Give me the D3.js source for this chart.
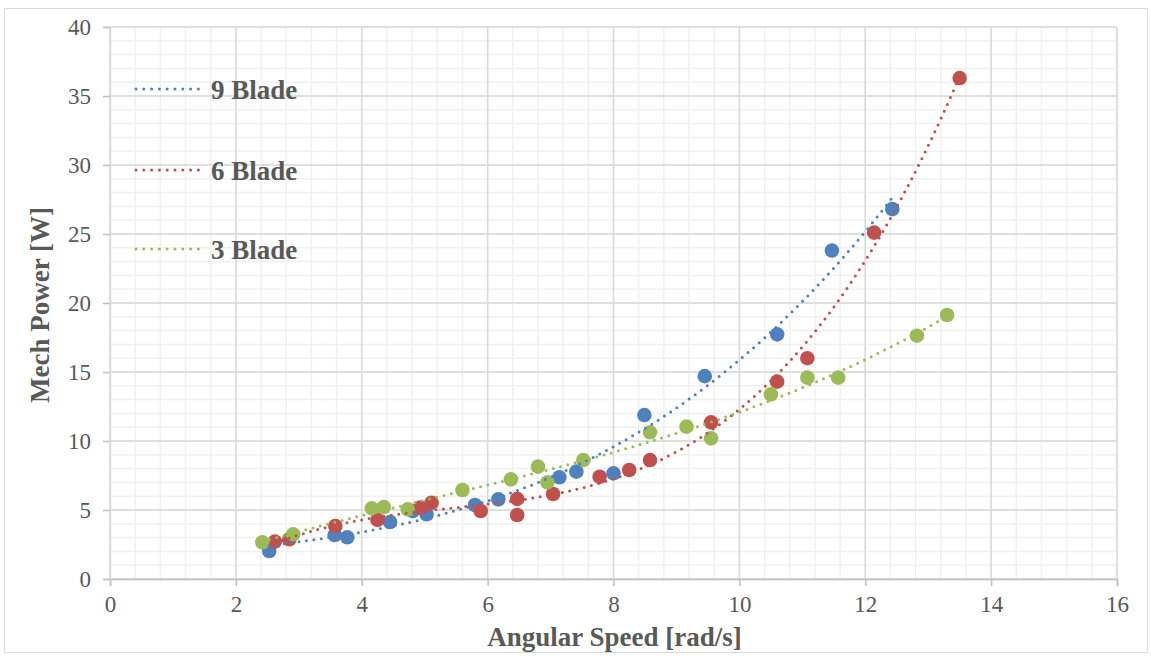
<!DOCTYPE html>
<html>
<head>
<meta charset="utf-8">
<script src="https://cdn.jsdelivr.net/npm/d3@7"></script>
<style>
  html, body { margin: 0; padding: 0; background: #fff; }
  svg { display: block; }
  text { font-family: "Liberation Serif", "Times New Roman", serif; }
</style>
</head>
<body>
<svg id="chart" width="1151" height="656"></svg>
<script>
// Angular speed [rad/s] and mechanical power [W] per rotor configuration
const blade9 = [
  [2.53, 2.03], [3.57, 3.19], [3.77, 3.02], [4.45, 4.13], [4.81, 4.93],
  [5.03, 4.69], [5.80, 5.36], [6.17, 5.77], [7.14, 7.37], [7.41, 7.78],
  [8.00, 7.66], [8.49, 11.88], [9.45, 14.70], [10.60, 17.73], [11.47, 23.80],
  [12.43, 26.80]
];
const blade6 = [
  [2.62, 2.71], [2.85, 2.88], [3.58, 3.84], [4.25, 4.28], [4.93, 5.17],
  [5.11, 5.53], [5.89, 4.93], [6.47, 5.80], [6.47, 4.64], [7.04, 6.16],
  [7.78, 7.41], [8.25, 7.90], [8.58, 8.62], [9.55, 11.35], [10.60, 14.30],
  [11.08, 16.00], [12.14, 25.10], [13.50, 36.30]
];
const blade3 = [
  [2.42, 2.66], [2.91, 3.24], [4.16, 5.12], [4.35, 5.22], [4.73, 5.05],
  [5.60, 6.45], [6.37, 7.22], [6.80, 8.14], [6.95, 7.00], [7.52, 8.62],
  [8.58, 10.63], [9.16, 11.04], [9.55, 10.19], [10.50, 13.38], [11.08, 14.59],
  [11.57, 14.59], [12.82, 17.63], [13.30, 19.13]
];
const seriesNames = ["9 Blade", "6 Blade", "3 Blade"];
const seriesColors = ["#4F81BD", "#C0504D", "#9BBB59"];
const xTicks = [0, 2, 4, 6, 8, 10, 12, 14, 16];
const yTicks = [0, 5, 10, 15, 20, 25, 30, 35, 40];
const xTitle = "Angular Speed [rad/s]";
const yTitle = "Mech Power [W]";

const series = [blade9, blade6, blade3].map((pts, i) => ({
  name: seriesNames[i], color: seriesColors[i], points: pts
}));

const svg = d3.select("#chart");
const W = 1151, H = 656;
const plot = { left: 110, right: 1117, top: 27, bottom: 579 };

// chart frame
svg.append("rect")
  .attr("x", 4.5).attr("y", 8.5).attr("width", W - 8).attr("height", H - 12)
  .attr("fill", "#fff").attr("stroke", "#d9d9d9").attr("stroke-width", 1);

const x = d3.scaleLinear().domain([0, 16]).range([plot.left, plot.right]);
const y = d3.scaleLinear().domain([0, 40]).range([plot.bottom, plot.top]);

// minor gridlines
const g = svg.append("g");
g.selectAll(".vminor").data(d3.range(0, 16.001, 0.4)).join("line")
  .attr("x1", d => x(d)).attr("x2", d => x(d))
  .attr("y1", plot.top).attr("y2", plot.bottom)
  .attr("stroke", "#f0f0f0").attr("stroke-width", 1.5);
g.selectAll(".hminor").data(d3.range(0, 40.001, 1)).join("line")
  .attr("y1", d => y(d)).attr("y2", d => y(d))
  .attr("x1", plot.left).attr("x2", plot.right)
  .attr("stroke", "#f0f0f0").attr("stroke-width", 1.5);
// major gridlines
g.selectAll(".vmajor").data(xTicks).join("line")
  .attr("x1", d => x(d)).attr("x2", d => x(d))
  .attr("y1", plot.top).attr("y2", plot.bottom)
  .attr("stroke", "#d9d9d9").attr("stroke-width", 1.5);
g.selectAll(".hmajor").data(yTicks).join("line")
  .attr("y1", d => y(d)).attr("y2", d => y(d))
  .attr("x1", plot.left).attr("x2", plot.right)
  .attr("stroke", "#d9d9d9").attr("stroke-width", 1.5);

// axes
const xAxis = d3.axisBottom(x).tickValues(xTicks).tickSize(7).tickPadding(10).tickFormat(d3.format("d"));
const yAxis = d3.axisLeft(y).tickValues(yTicks).tickSize(7).tickPadding(12).tickFormat(d3.format("d"));
const gx = svg.append("g").attr("transform", `translate(0,${plot.bottom})`).call(xAxis);
const gy = svg.append("g").attr("transform", `translate(${plot.left},0)`).call(yAxis);
[gx, gy].forEach(a => {
  a.select(".domain").attr("stroke", "#bfbfbf").attr("stroke-width", 1.5);
  a.selectAll(".tick line").attr("stroke", "#bfbfbf").attr("stroke-width", 1.5);
  a.selectAll(".tick text")
    .attr("fill", "#595959")
    .style("font-family", '"Liberation Serif", serif')
    .style("font-size", "23px");
});
gy.select(".domain").attr("stroke", "#d9d9d9");

// axis titles
svg.append("text")
  .attr("x", (plot.left + plot.right) / 2 + 1).attr("y", 646)
  .attr("text-anchor", "middle")
  .attr("fill", "#595959").attr("font-weight", "bold").attr("font-size", 27)
  .text(xTitle);
svg.append("text")
  .attr("transform", `translate(49,${(plot.top + plot.bottom) / 2 + 2}) rotate(-90)`)
  .attr("text-anchor", "middle")
  .attr("fill", "#595959").attr("font-weight", "bold").attr("font-size", 27)
  .text(yTitle);

// least-squares polynomial trendline
function polyFit(pts, order) {
  const n = order + 1;
  const A = Array.from({ length: n }, () => new Array(n + 1).fill(0));
  pts.forEach(([px, py]) => {
    for (let r = 0; r < n; r++) {
      for (let c = 0; c < n; c++) A[r][c] += Math.pow(px, r + c);
      A[r][n] += py * Math.pow(px, r);
    }
  });
  for (let i = 0; i < n; i++) {
    let m = i;
    for (let k = i + 1; k < n; k++) if (Math.abs(A[k][i]) > Math.abs(A[m][i])) m = k;
    [A[i], A[m]] = [A[m], A[i]];
    for (let k = i + 1; k < n; k++) {
      const f = A[k][i] / A[i][i];
      for (let c = i; c <= n; c++) A[k][c] -= f * A[i][c];
    }
  }
  const coef = new Array(n).fill(0);
  for (let i = n - 1; i >= 0; i--) {
    let s = A[i][n];
    for (let c = i + 1; c < n; c++) s -= A[i][c] * coef[c];
    coef[i] = s / A[i][i];
  }
  return v => coef.reduce((acc, a, k) => acc + a * Math.pow(v, k), 0);
}

const line = d3.line().x(d => x(d[0])).y(d => y(d[1])).curve(d3.curveLinear);

// markers
series.forEach(s => {
  svg.append("g").selectAll("circle").data(s.points).join("circle")
    .attr("cx", d => x(d[0])).attr("cy", d => y(d[1]))
    .attr("r", 7.3).attr("fill", s.color);
});

// trendlines drawn above the markers
series.forEach(s => {
  const f = polyFit(s.points, 3);
  const [x0, x1] = d3.extent(s.points, d => d[0]);
  const samples = d3.range(0, 201).map(i => {
    const v = x0 + (x1 - x0) * i / 200;
    return [v, f(v)];
  });
  svg.append("path").datum(samples)
    .attr("d", line).attr("fill", "none")
    .attr("stroke", s.color).attr("stroke-width", 3)
    .attr("stroke-linecap", "round").attr("stroke-dasharray", "0 7.5");
});

// legend
const legendRows = [89, 170, 249];
series.forEach((s, i) => {
  const ly = legendRows[i];
  svg.append("line")
    .attr("x1", 136).attr("x2", 199).attr("y1", ly).attr("y2", ly)
    .attr("stroke", s.color).attr("stroke-width", 3)
    .attr("stroke-linecap", "round").attr("stroke-dasharray", "0 7.8");
  svg.append("text")
    .attr("x", 211).attr("y", ly + 10)
    .attr("fill", "#595959").attr("font-weight", "bold").attr("font-size", 27)
    .text(s.name);
});
</script>
</body>
</html>
